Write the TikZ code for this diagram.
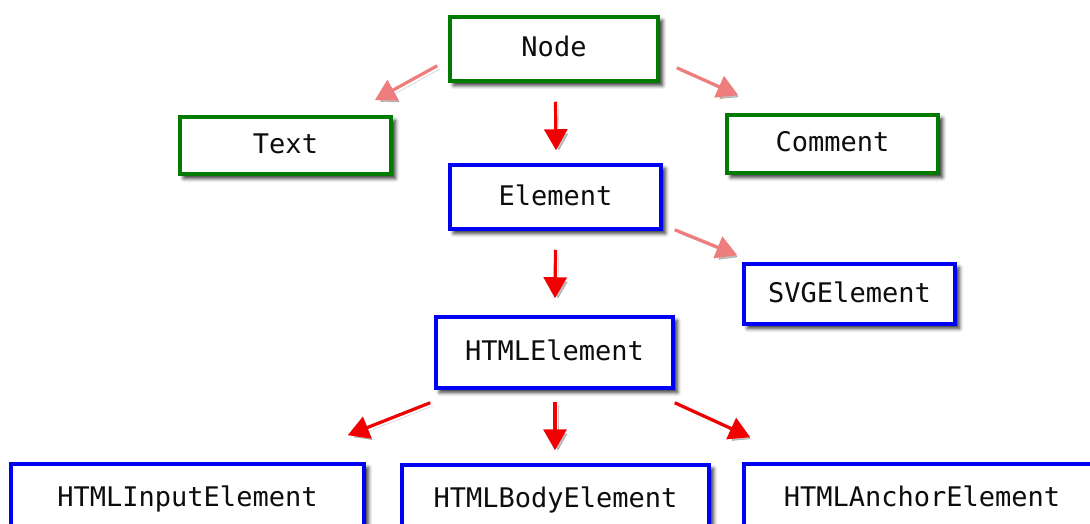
\documentclass[tikz,border=0pt]{standalone}
\usepackage{fontspec}
\setmonofont{DejaVu Sans Mono}
\usetikzlibrary{arrows.meta,shadows.blur}

\definecolor{boxgreen}{RGB}{0,122,0}
\definecolor{boxblue}{RGB}{0,0,245}
\definecolor{arrowred}{RGB}{240,0,0}
\definecolor{arrowpale}{RGB}{238,125,125}

\tikzset{
  classbox/.style={draw, line width=4pt, fill=white, inner sep=0pt, outer sep=0pt,
    font=\fontsize{27}{30}\selectfont\ttfamily, text=black!95,
    text height=21pt, text depth=5pt,
    blur shadow={shadow xshift=4pt, shadow yshift=-4pt, shadow blur radius=4pt, shadow opacity=85}},
  basebox/.style={classbox, draw=boxgreen},
  elembox/.style={classbox, draw=boxblue},
  link/.style={line width=3.2pt, -{Triangle[length=21pt,width=23pt]},
    preaction={draw=black, draw opacity=0.25, fill opacity=0.25,
      transform canvas={shift={(3pt,-3pt)}}}},
  strong/.style={link, draw=arrowred, fill=arrowred},
  weak/.style={link, draw=arrowpale, fill=arrowpale},
}

\begin{document}
\begin{tikzpicture}[x=1pt,y=-1pt]
  \useasboundingbox (0,0) rectangle (1090,524);
  \clip (0,0) rectangle (1090,524);

  % class boxes
  \node[basebox, minimum width=208.5pt, minimum height=64.5pt] (node) at (554,49) {Node};
  \node[basebox, minimum width=211.5pt, minimum height=57.5pt] (text) at (285.5,145.5) {Text};
  \node[basebox, minimum width=211.5pt, minimum height=58.5pt] (comment) at (832.5,144) {Comment};
  \node[elembox, minimum width=211.5pt, minimum height=64.5pt] (element) at (555.5,197) {Element};
  \node[elembox, minimum width=211.5pt, minimum height=60.5pt] (svg) at (849.5,294) {SVGElement};
  \node[elembox, minimum width=237.5pt, minimum height=71.5pt] (html) at (554.5,352.5) {HTMLElement};
  \node[elembox, minimum width=353.5pt, minimum height=68.5pt] (input) at (187.5,498) {HTMLInputElement};
  \node[elembox, minimum width=307.5pt, minimum height=68.5pt] (body) at (555.5,499) {HTMLBodyElement};
  \node[elembox, minimum width=356.5pt, minimum height=68.5pt] (anchor) at (922,498) {HTMLAnchorElement};

  % inheritance arrows
  \draw[weak] ([shift={(-12.5,-15.5)}]node.south west) -- ([shift={(-16.5,-16.5)}]text.north east);
  \draw[weak] ([shift={(18.5,-13.5)}]node.south east) -- ([shift={(11.5,-19.5)}]comment.north west);
  \draw[strong] ([shift={(1.5,20.5)}]node.south) -- ([shift={(0.5,-14.5)}]element.north);
  \draw[weak] ([shift={(13.5,0.5)}]element.south east) -- ([shift={(-6.5,-8.5)}]svg.north west);
  \draw[strong] ([shift={(0,20.5)}]element.south) -- ([shift={(0.5,-18.5)}]html.north);
  \draw[strong] ([shift={(-5.5,14.5)}]html.south west) -- ([shift={(-16.5,-28.5)}]input.north east);
  \draw[strong] ([shift={(0.5,13.5)}]html.south) -- ([shift={(-0.5,-14.5)}]body.north);
  \draw[strong] ([shift={(1.5,14.5)}]html.south east) -- ([shift={(6.5,-26.5)}]anchor.north west);
\end{tikzpicture}
\end{document}
